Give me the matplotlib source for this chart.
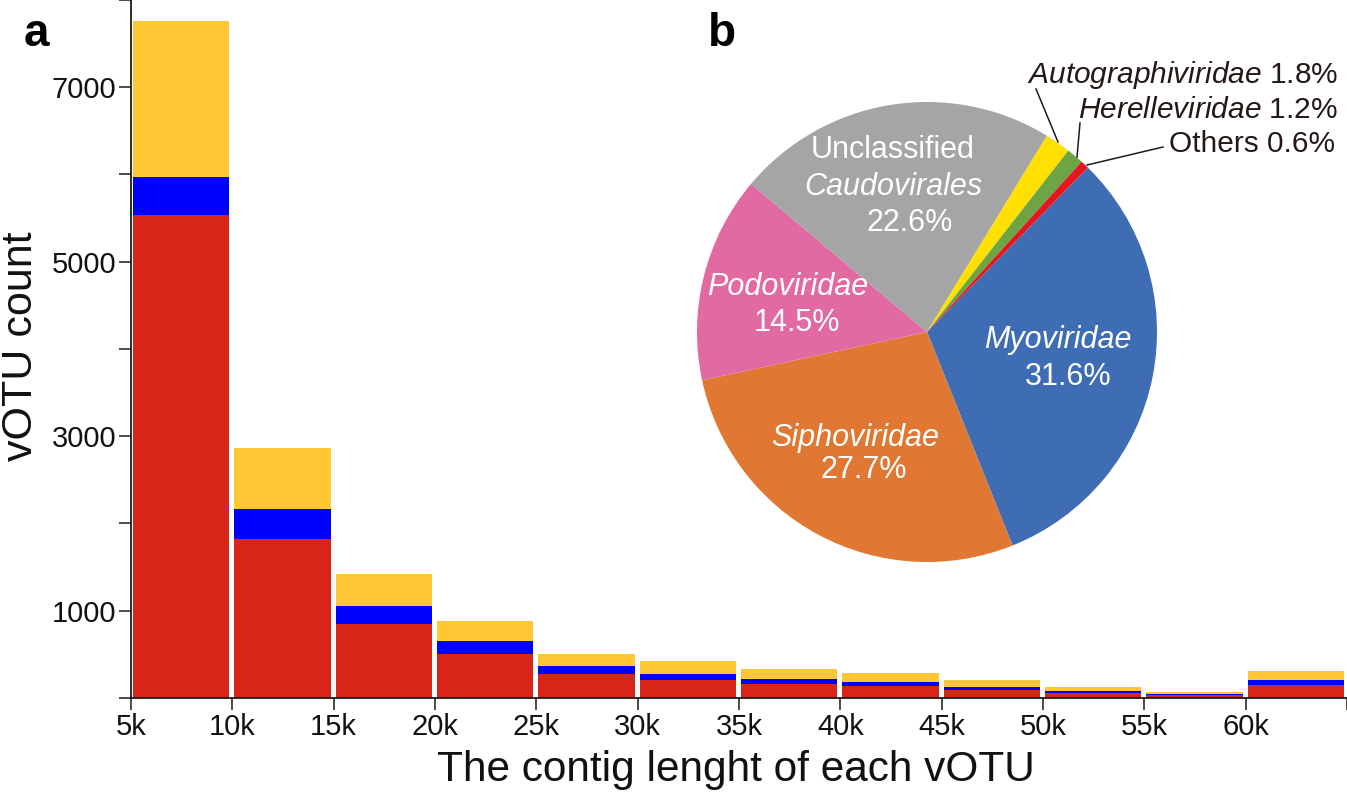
import matplotlib
matplotlib.use("Agg")
import matplotlib.pyplot as plt
from matplotlib.lines import Line2D
import numpy as np

plt.rcParams['font.family'] = ['Liberation Sans', 'DejaVu Sans']
plt.rcParams['mathtext.fontset'] = 'custom'
plt.rcParams['mathtext.rm'] = 'Liberation Sans'
plt.rcParams['mathtext.it'] = 'Liberation Sans:italic'

# ---- data: panel a (stacked histogram of contig length) ----
bin_start = [5000, 10000, 15000, 20000, 25000, 30000, 35000, 40000, 45000, 50000, 55000, 60000]
red_counts = [5539, 1822, 843, 502, 277, 204, 158, 135, 93, 59, 32, 150]
blue_counts = [435, 340, 207, 146, 91, 69, 54, 46, 31, 19, 15, 58]
yellow_counts = [1790, 703, 370, 233, 134, 153, 118, 107, 84, 46, 23, 99]
xtick_vals = [5000, 10000, 15000, 20000, 25000, 30000, 35000, 40000, 45000, 50000, 55000, 60000, 65000]
xtick_labels = ['5k', '10k', '15k', '20k', '25k', '30k', '35k', '40k', '45k', '50k', '55k', '60k', '']
ytick_vals = [0, 1000, 2000, 3000, 4000, 5000, 6000, 7000, 8000]
ytick_labels = ['', '1000', '', '3000', '', '5000', '', '7000', '']

# ---- data: panel b (pie of families) ----
families = ['Myoviridae', 'Siphoviridae', 'Podoviridae', 'Unclassified Caudovirales',
            'Autographiviridae', 'Herelleviridae', 'Others']
shares = [31.6, 27.7, 14.5, 22.6, 1.8, 1.2, 0.6]
pie_colors = ['#3F6DB3', '#E07834', '#E26AA2', '#A5A5A5', '#FFE000', '#6DA544', '#E5161F']

W, H = 1347, 792
fig = plt.figure(figsize=(W / 100, H / 100), dpi=100)

def fx(px):
    return px / W

def fy(py):
    return 1 - py / H

# ---- panel a ----
ax = fig.add_axes([fx(131), fy(697.8), fx(1347) - fx(131), fy(0) - fy(697.8)])
left = np.array(bin_start) + 100
width = 4760
red = np.array(red_counts)
blue = np.array(blue_counts)
yellow = np.array(yellow_counts)
ax.bar(left, red, width=width, align='edge', color='#D92518', linewidth=0)
ax.bar(left, blue, width=width, bottom=red, align='edge', color='#0000FF', linewidth=0)
ax.bar(left, yellow, width=width, bottom=red + blue, align='edge', color='#FFC734', linewidth=0)

ax.set_xlim(5000, 65000)
ax.set_ylim(0, 8000)
ax.set_xticks(xtick_vals)
ax.set_xticklabels(xtick_labels)
ax.set_yticks(ytick_vals)
ax.set_yticklabels(ytick_labels)
for s in ['top', 'right']:
    ax.spines[s].set_visible(False)
for s in ['left', 'bottom']:
    ax.spines[s].set_linewidth(1.3)
    ax.spines[s].set_color('#231815')
ax.tick_params(axis='both', direction='out', length=8.6, width=1.1, color='#231815',
               labelsize=21, labelcolor='#111111')
ax.tick_params(axis='y', pad=2)
ax.tick_params(axis='x', pad=2)
ax.spines['left'].set_zorder(3)

fig.text(fx(21), fy(346), 'vOTU count', rotation=90, ha='center', va='center',
         fontsize=31, color='#111111')
fig.text(fx(736), fy(770), 'The contig lenght of each vOTU', ha='center', va='center',
         fontsize=30.5, color='#111111')
fig.text(fx(24), fy(46), 'a', fontsize=33, fontweight='bold', ha='left', va='baseline')
fig.text(fx(708), fy(46), 'b', fontsize=33, fontweight='bold', ha='left', va='baseline')

# ---- panel b ----
cx, cy, r = 927, 332, 230
pax = fig.add_axes([fx(cx - r), fy(cy + r), fx(2 * r), fy(cy - r) - fy(cy + r)])
pax.pie(shares, colors=pie_colors, startangle=45.6, counterclock=False, radius=1,
        wedgeprops=dict(linewidth=0))
pax.set_xlim(-1, 1)
pax.set_ylim(-1, 1)
pax.axis('off')

def ptxt(x, y, s, style='normal', color='white', ha='center', size=22):
    fig.text(fx(x), fy(y), s, fontsize=size, style=style, color=color, ha=ha, va='center')

ptxt(1058, 340, 'Myoviridae', 'italic')
ptxt(1068, 377, '31.6%')
ptxt(855, 438, 'Siphoviridae', 'italic')
ptxt(864, 470, '27.7%')
ptxt(788, 287, 'Podoviridae', 'italic')
ptxt(797, 323, '14.5%')
ptxt(893, 150, 'Unclassified')
ptxt(893, 187, 'Caudovirales', 'italic')
ptxt(910, 223, '22.6%')

dark = '#231815'
ptxt(1338, 75, r'$\mathit{Autographiviridae}$ 1.8%', color=dark, ha='right', size=21.5)
ptxt(1338, 110, r'$\mathit{Herelleviridae}$ 1.2%', color=dark, ha='right', size=21.5)
ptxt(1335, 144, 'Others 0.6%', color=dark, ha='right', size=21.5)

for (x0, y0, x1, y1) in [(1036, 89, 1058, 142), (1080, 123, 1077, 157), (1163, 147, 1087, 165)]:
    fig.add_artist(Line2D([fx(x0), fx(x1)], [fy(y0), fy(y1)], color=dark, linewidth=1.1,
                          transform=fig.transFigure))

fig.savefig('out.png', dpi=100)
